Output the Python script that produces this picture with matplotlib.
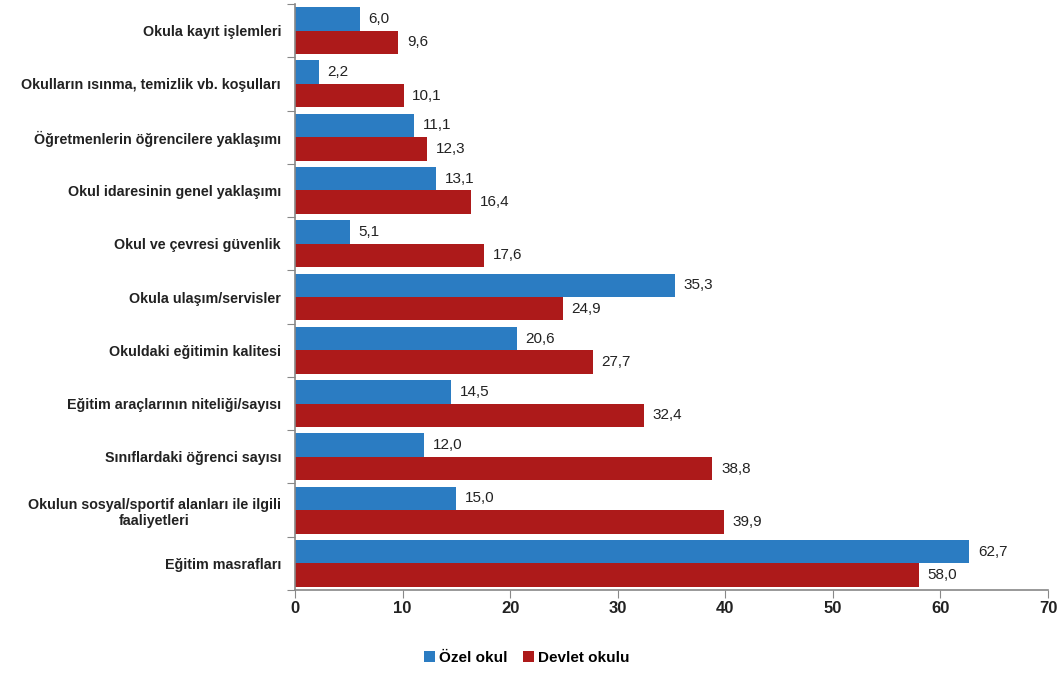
import matplotlib
matplotlib.use("Agg")
import matplotlib.pyplot as plt
import numpy as np

# data, top to bottom as in the chart
categories = [
    "Okula kayıt işlemleri",
    "Okulların ısınma, temizlik vb. koşulları",
    "Öğretmenlerin öğrencilere yaklaşımı",
    "Okul idaresinin genel yaklaşımı",
    "Okul ve çevresi güvenlik",
    "Okula ulaşım/servisler",
    "Okuldaki eğitimin kalitesi",
    "Eğitim araçlarının niteliği/sayısı",
    "Sınıflardaki öğrenci sayısı",
    "Okulun sosyal/sportif alanları ile ilgili\nfaaliyetleri",
    "Eğitim masrafları",
]
ozel = [6.0, 2.2, 11.1, 13.1, 5.1, 35.3, 20.6, 14.5, 12.0, 15.0, 62.7]
devlet = [9.6, 10.1, 12.3, 16.4, 17.6, 24.9, 27.7, 32.4, 38.8, 39.9, 58.0]
x_ticks = [0, 10, 20, 30, 40, 50, 60, 70]

blue = "#2b7cc2"
red = "#ad1a1a"
font = "Liberation Sans"

fig = plt.figure(figsize=(10.6, 6.74), dpi=100)
ax = fig.add_axes([295 / 1060, 1 - 590 / 674, (1048 - 295) / 1060, (590 - 4) / 674])

n = len(categories)
y = np.arange(n)
h = 0.44
ax.barh(y - h / 2, ozel, height=h, color=blue, label="Özel okul")
ax.barh(y + h / 2, devlet, height=h, color=red, label="Devlet okulu")

for yi, v in zip(y, ozel):
    ax.text(v + 0.8, yi - h / 2, f"{v:.1f}".replace(".", ","), va="center",
            ha="left", fontsize=11, family=font, color="#222222")
for yi, v in zip(y, devlet):
    ax.text(v + 0.8, yi + h / 2, f"{v:.1f}".replace(".", ","), va="center",
            ha="left", fontsize=11, family=font, color="#222222")

ax.set_ylim(n - 0.5, -0.5)
ax.set_xlim(0, 70)
ax.set_xticks(x_ticks)
ax.set_xticklabels([str(t) for t in x_ticks], family=font, fontsize=12,
                   fontweight="bold", color="#222222")

# category boundaries as ticks, labels in the middle
ax.set_yticks(np.arange(n + 1) - 0.5)
ax.set_yticklabels([])
ax.set_yticks(y, minor=True)
ax.set_yticklabels(categories, minor=True, fontsize=10.3, fontweight="bold",
                   family=font, color="#222222", multialignment="center")
ax.tick_params(axis="y", which="minor", length=0, pad=10)
ax.tick_params(axis="y", which="major", length=6, color="#888888")
ax.tick_params(axis="x", length=6, color="#888888", pad=2)

for s in ["top", "right"]:
    ax.spines[s].set_visible(False)
for s in ["left", "bottom"]:
    ax.spines[s].set_color("#888888")
    ax.spines[s].set_linewidth(1.2)

fig.legend(loc="center", bbox_to_anchor=(527 / 1060, 1 - 658 / 674),
           ncol=2, frameon=False, handlelength=0.7, handleheight=0.7,
           handletextpad=0.3, columnspacing=1.0,
           prop={"family": font, "size": 11, "weight": "bold"})

fig.savefig("out.png", dpi=100)
